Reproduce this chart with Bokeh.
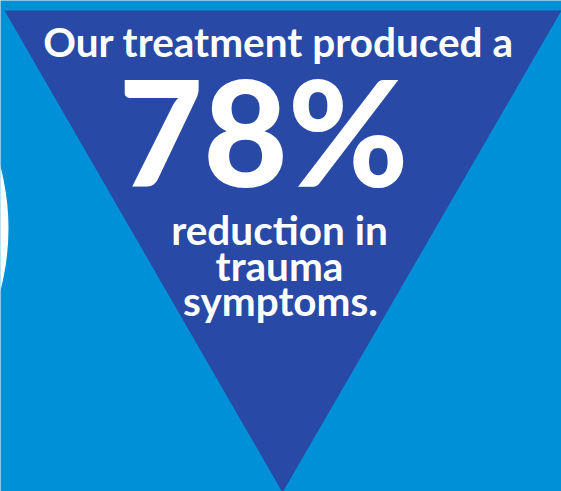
from bokeh.plotting import figure
from bokeh.models import Range1d
from bokeh.embed import file_html
from bokeh.resources import INLINE
from bokeh.core.properties import value

# ---- content ----
headline = ["Our treatment produced a"]
percent = [78]
tail_lines = ["reduction in", "trauma", "symptoms."]

# ---- colours ----
BG = "#0090D7"
TRI = "#2849A5"

# ---- shape geometry (pixel space) ----
tri_x = [4, 561, 282]
tri_y = [10, 10, 492]
circle_cx = [-236]
circle_cy = [228]
circle_r = 244

W, H = 561, 491
p = figure(width=W, height=H, output_backend="svg", toolbar_location=None,
           x_range=Range1d(0, W), y_range=Range1d(H, 0),
           min_border=0, background_fill_color=BG, border_fill_color=BG)
p.axis.visible = False
p.grid.visible = False
p.outline_line_color = None

p.circle(x=circle_cx, y=circle_cy, radius=circle_r, fill_color="white", line_color=None)
p.patch(tri_x, tri_y, fill_color=TRI, line_color=None)

SMALL = 40.5
BIG = 146
SHIFT = 0.35  # baseline compensation (em)

p.text(x=[278], y=[55 - SHIFT * SMALL], text=headline, text_font=value("Lato"),
       text_font_style="bold", text_font_size=f"{SMALL}px", text_color="white",
       text_align="center", text_baseline="alphabetic")

p.text(x=[263], y=[181 - SHIFT * BIG], text=[f"{v}%" for v in percent],
       text_font=value("Lato Black"), text_font_style="bold", text_font_size=f"{BIG}px",
       text_color="white", text_align="center", text_baseline="alphabetic")

p.text(x=[279, 279, 280], y=[b - SHIFT * SMALL for b in (243, 279, 314)], text=tail_lines,
       text_font=value("Lato"), text_font_style="bold", text_font_size=f"{SMALL}px",
       text_color="white", text_align="center", text_baseline="alphabetic")

open("out.html", "w").write(file_html(p, INLINE))
